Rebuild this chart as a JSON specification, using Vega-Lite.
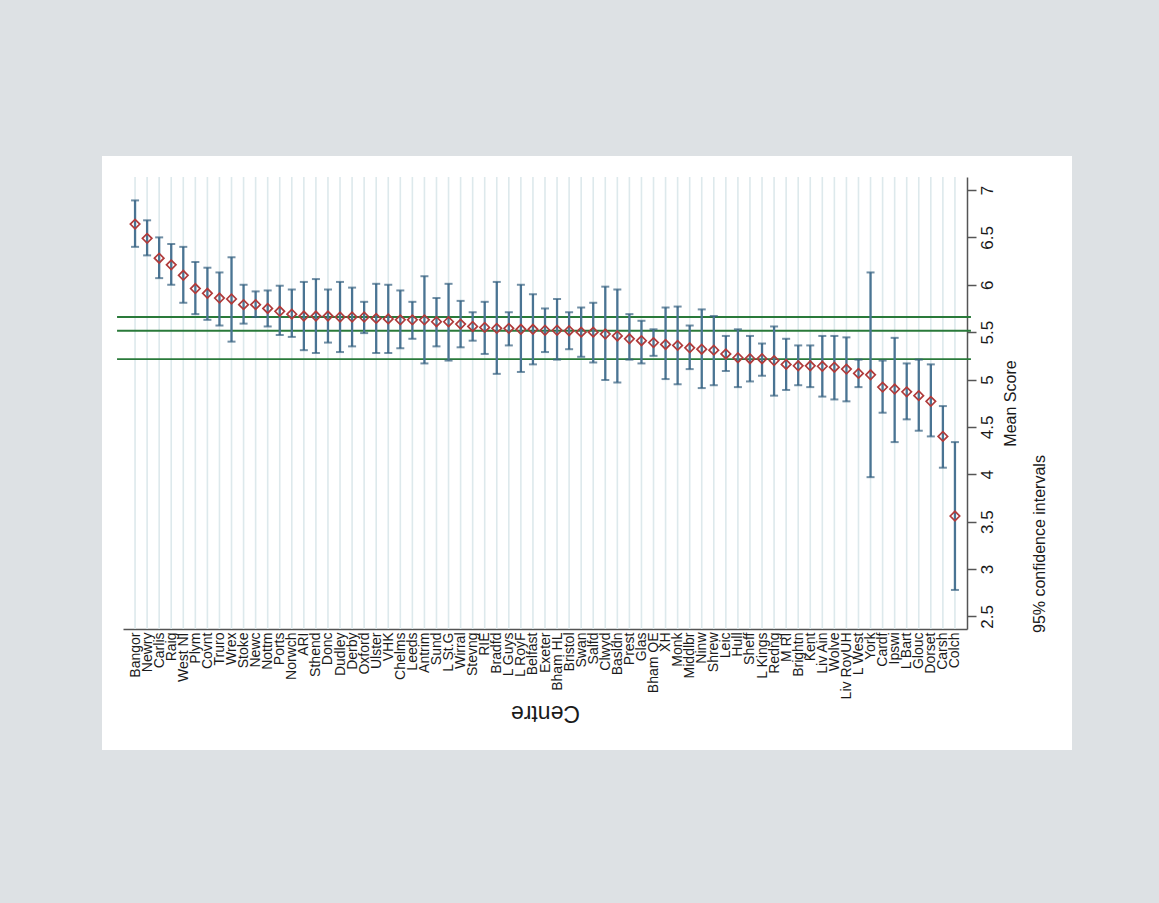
{
  "$schema": "https://vega.github.io/schema/vega-lite/v6.json",
  "width": 970,
  "height": 594,
  "autosize": {"type": "none"},
  "padding": {"left": 102, "top": 156, "right": 87, "bottom": 153},
  "background": "#dde1e4",
  "config": {"view": {"fill": "white", "stroke": null}, "font": "Liberation Sans"},
  "title": {"text": "95% confidence intervals", "orient": "right", "anchor": "end", "angle": 270, "baseline": "top", "align": "left", "offset": -56, "dx": 117, "fontSize": 16, "fontWeight": "normal", "color": "#1a1a1a", "frame": "group"},
  "data": {"values": [
    {"centre": "Bangor", "mean": 6.64, "lo": 6.40, "hi": 6.89},
    {"centre": "Newry", "mean": 6.49, "lo": 6.31, "hi": 6.68},
    {"centre": "Carlis", "mean": 6.28, "lo": 6.07, "hi": 6.50},
    {"centre": "Raig", "mean": 6.21, "lo": 6.00, "hi": 6.43},
    {"centre": "West NI", "mean": 6.10, "lo": 5.81, "hi": 6.40},
    {"centre": "Plym", "mean": 5.96, "lo": 5.69, "hi": 6.24},
    {"centre": "Covnt", "mean": 5.91, "lo": 5.63, "hi": 6.18},
    {"centre": "Truro", "mean": 5.86, "lo": 5.57, "hi": 6.13},
    {"centre": "Wrex", "mean": 5.85, "lo": 5.40, "hi": 6.29},
    {"centre": "Stoke", "mean": 5.79, "lo": 5.59, "hi": 6.00},
    {"centre": "Newc", "mean": 5.79, "lo": 5.66, "hi": 5.93},
    {"centre": "Nottm", "mean": 5.75, "lo": 5.56, "hi": 5.94},
    {"centre": "Ports", "mean": 5.72, "lo": 5.47, "hi": 5.99},
    {"centre": "Norwch", "mean": 5.69, "lo": 5.45, "hi": 5.95},
    {"centre": "ARI", "mean": 5.67, "lo": 5.31, "hi": 6.03},
    {"centre": "Sthend", "mean": 5.67, "lo": 5.28, "hi": 6.06},
    {"centre": "Donc", "mean": 5.67, "lo": 5.39, "hi": 5.95},
    {"centre": "Dudley", "mean": 5.66, "lo": 5.29, "hi": 6.03},
    {"centre": "Derby", "mean": 5.66, "lo": 5.35, "hi": 5.97},
    {"centre": "Oxford", "mean": 5.66, "lo": 5.49, "hi": 5.82},
    {"centre": "Ulster", "mean": 5.645, "lo": 5.28, "hi": 6.01},
    {"centre": "VHK", "mean": 5.64, "lo": 5.28, "hi": 6.00},
    {"centre": "Chelms", "mean": 5.63, "lo": 5.33, "hi": 5.94},
    {"centre": "Leeds", "mean": 5.63, "lo": 5.43, "hi": 5.82},
    {"centre": "Antrim", "mean": 5.63, "lo": 5.17, "hi": 6.09},
    {"centre": "Sund", "mean": 5.61, "lo": 5.35, "hi": 5.86},
    {"centre": "L St.G", "mean": 5.61, "lo": 5.20, "hi": 6.01},
    {"centre": "Wirral", "mean": 5.585, "lo": 5.34, "hi": 5.83},
    {"centre": "Stevng", "mean": 5.56, "lo": 5.41, "hi": 5.71},
    {"centre": "RIE", "mean": 5.55, "lo": 5.27, "hi": 5.82},
    {"centre": "Bradfd", "mean": 5.54, "lo": 5.06, "hi": 6.03},
    {"centre": "L Guys", "mean": 5.54, "lo": 5.36, "hi": 5.71},
    {"centre": "L RoyF", "mean": 5.53, "lo": 5.08, "hi": 6.00},
    {"centre": "Belfast", "mean": 5.53, "lo": 5.16, "hi": 5.90},
    {"centre": "Exeter", "mean": 5.52, "lo": 5.29, "hi": 5.75},
    {"centre": "Bham HL", "mean": 5.52, "lo": 5.21, "hi": 5.85},
    {"centre": "Bristol", "mean": 5.515, "lo": 5.32, "hi": 5.71},
    {"centre": "Swan", "mean": 5.50, "lo": 5.24, "hi": 5.76},
    {"centre": "Salfd", "mean": 5.50, "lo": 5.18, "hi": 5.81},
    {"centre": "Clwyd", "mean": 5.48, "lo": 4.995, "hi": 5.98},
    {"centre": "Basldn", "mean": 5.46, "lo": 4.97, "hi": 5.95},
    {"centre": "Prest", "mean": 5.43, "lo": 5.21, "hi": 5.69},
    {"centre": "Glas", "mean": 5.41, "lo": 5.17, "hi": 5.62},
    {"centre": "Bham QE", "mean": 5.39, "lo": 5.25, "hi": 5.53},
    {"centre": "XH", "mean": 5.37, "lo": 5.005, "hi": 5.76},
    {"centre": "Monk", "mean": 5.36, "lo": 4.95, "hi": 5.77},
    {"centre": "Middlbr", "mean": 5.335, "lo": 5.11, "hi": 5.57},
    {"centre": "Ninw", "mean": 5.32, "lo": 4.91, "hi": 5.74},
    {"centre": "Shrew", "mean": 5.31, "lo": 4.94, "hi": 5.67},
    {"centre": "Leic", "mean": 5.27, "lo": 5.09, "hi": 5.46},
    {"centre": "Hull", "mean": 5.23, "lo": 4.92, "hi": 5.53},
    {"centre": "Sheff", "mean": 5.22, "lo": 4.98, "hi": 5.46},
    {"centre": "L Kings", "mean": 5.22, "lo": 5.04, "hi": 5.38},
    {"centre": "Redng", "mean": 5.20, "lo": 4.83, "hi": 5.56},
    {"centre": "M RI", "mean": 5.16, "lo": 4.89, "hi": 5.43},
    {"centre": "Brightn", "mean": 5.145, "lo": 4.94, "hi": 5.36},
    {"centre": "Kent", "mean": 5.145, "lo": 4.92, "hi": 5.36},
    {"centre": "Liv Ain", "mean": 5.14, "lo": 4.82, "hi": 5.46},
    {"centre": "Wolve", "mean": 5.13, "lo": 4.79, "hi": 5.46},
    {"centre": "Liv RoyUH", "mean": 5.11, "lo": 4.77, "hi": 5.445},
    {"centre": "L West", "mean": 5.065, "lo": 4.92, "hi": 5.21},
    {"centre": "York", "mean": 5.05, "lo": 3.97, "hi": 6.13},
    {"centre": "Cardf", "mean": 4.92, "lo": 4.65, "hi": 5.20},
    {"centre": "Ipswi", "mean": 4.90, "lo": 4.34, "hi": 5.44},
    {"centre": "L Bart", "mean": 4.87, "lo": 4.58, "hi": 5.17},
    {"centre": "Glouc", "mean": 4.83, "lo": 4.46, "hi": 5.21},
    {"centre": "Dorset", "mean": 4.77, "lo": 4.40, "hi": 5.16},
    {"centre": "Carsh", "mean": 4.40, "lo": 4.07, "hi": 4.72},
    {"centre": "Colch", "mean": 3.56, "lo": 2.78, "hi": 4.34}
  ]},
  "encoding": {
    "x": {
      "field": "centre", "type": "nominal", "sort": null,
      "scale": {
        "type": "point", "range": [21, 865], "padding": 1.44,
        "domain": ["Bangor", "Newry", "Carlis", "Raig", "West NI", "Plym", "Covnt", "Truro", "Wrex", "Stoke", "Newc", "Nottm", "Ports", "Norwch", "ARI", "Sthend", "Donc", "Dudley", "Derby", "Oxford", "Ulster", "VHK", "Chelms", "Leeds", "Antrim", "Sund", "L St.G", "Wirral", "Stevng", "RIE", "Bradfd", "L Guys", "L RoyF", "Belfast", "Exeter", "Bham HL", "Bristol", "Swan", "Salfd", "Clwyd", "Basldn", "Prest", "Glas", "Bham QE", "XH", "Monk", "Middlbr", "Ninw", "Shrew", "Leic", "Hull", "Sheff", "L Kings", "Redng", "M RI", "Brightn", "Kent", "Liv Ain", "Wolve", "Liv RoyUH", "L West", "York", "Cardf", "Ipswi", "L Bart", "Glouc", "Dorset", "Carsh", "Colch"]
      },
      "axis": {
        "orient": "bottom", "offset": -121, "title": "Centre",
        "labelAngle": 270, "labelAlign": "right", "labelBaseline": "middle",
        "labelFontSize": 14, "labelPadding": 3, "labelColor": "#1a1a1a", "labelOverlap": false,
        "ticks": false, "domainColor": "#555555", "domainWidth": 1.5,
        "grid": false,
        "titleAngle": 180, "titleBaseline": "bottom", "titleFontSize": 23,
        "titleFontWeight": "normal", "titleColor": "#1a1a1a", "titlePadding": 2
      }
    }
  },
  "layer": [
    {
      "mark": {"type": "rule", "color": "#dde9ec", "strokeWidth": 1.6},
      "encoding": {
        "y": {
          "datum": 7.137, "type": "quantitative",
          "scale": {"domain": [2.368, 7.137], "range": [473, 21], "nice": false, "zero": false},
          "axis": {
            "orient": "right", "offset": -105, "values": [2.5, 3, 3.5, 4, 4.5, 5, 5.5, 6, 6.5, 7],
            "format": "~g", "labelAngle": 270, "labelAlign": "center", "labelBaseline": "top",
            "labelPadding": 3, "labelFontSize": 17, "labelColor": "#1a1a1a", "labelFlush": false,
            "tickSize": 9, "tickColor": "#555555", "tickWidth": 1.5,
            "domainColor": "#555555", "domainWidth": 1.5, "grid": false,
            "title": "Mean Score", "titleAngle": 270, "titleBaseline": "top", "titleFontSize": 16,
            "titleFontWeight": "normal", "titleColor": "#1a1a1a", "titlePadding": 7
          }
        },
        "y2": {"datum": 2.368}
      }
    },
    {
      "data": {"values": [{"v": 5.66}, {"v": 5.515}, {"v": 5.215}]},
      "mark": {"type": "rule", "color": "#2a7a3a", "strokeWidth": 1.8, "xOffset": -18, "x2Offset": 16},
      "encoding": {
        "x": {"datum": "Bangor"},
        "x2": {"datum": "Colch"},
        "y": {"field": "v", "type": "quantitative"}
      }
    },
    {
      "mark": {"type": "rule", "color": "#4a7493", "strokeWidth": 2.3},
      "encoding": {
        "y": {"field": "lo", "type": "quantitative"},
        "y2": {"field": "hi"}
      }
    },
    {
      "mark": {"type": "tick", "color": "#34607f", "size": 8, "thickness": 2},
      "encoding": {"y": {"field": "lo", "type": "quantitative"}}
    },
    {
      "mark": {"type": "tick", "color": "#34607f", "size": 8, "thickness": 2},
      "encoding": {"y": {"field": "hi", "type": "quantitative"}}
    },
    {
      "mark": {"type": "point", "shape": "diamond", "filled": false, "color": "#b03a3a", "strokeWidth": 1.7, "size": 90, "opacity": 1},
      "encoding": {"y": {"field": "mean", "type": "quantitative"}}
    }
  ]
}
